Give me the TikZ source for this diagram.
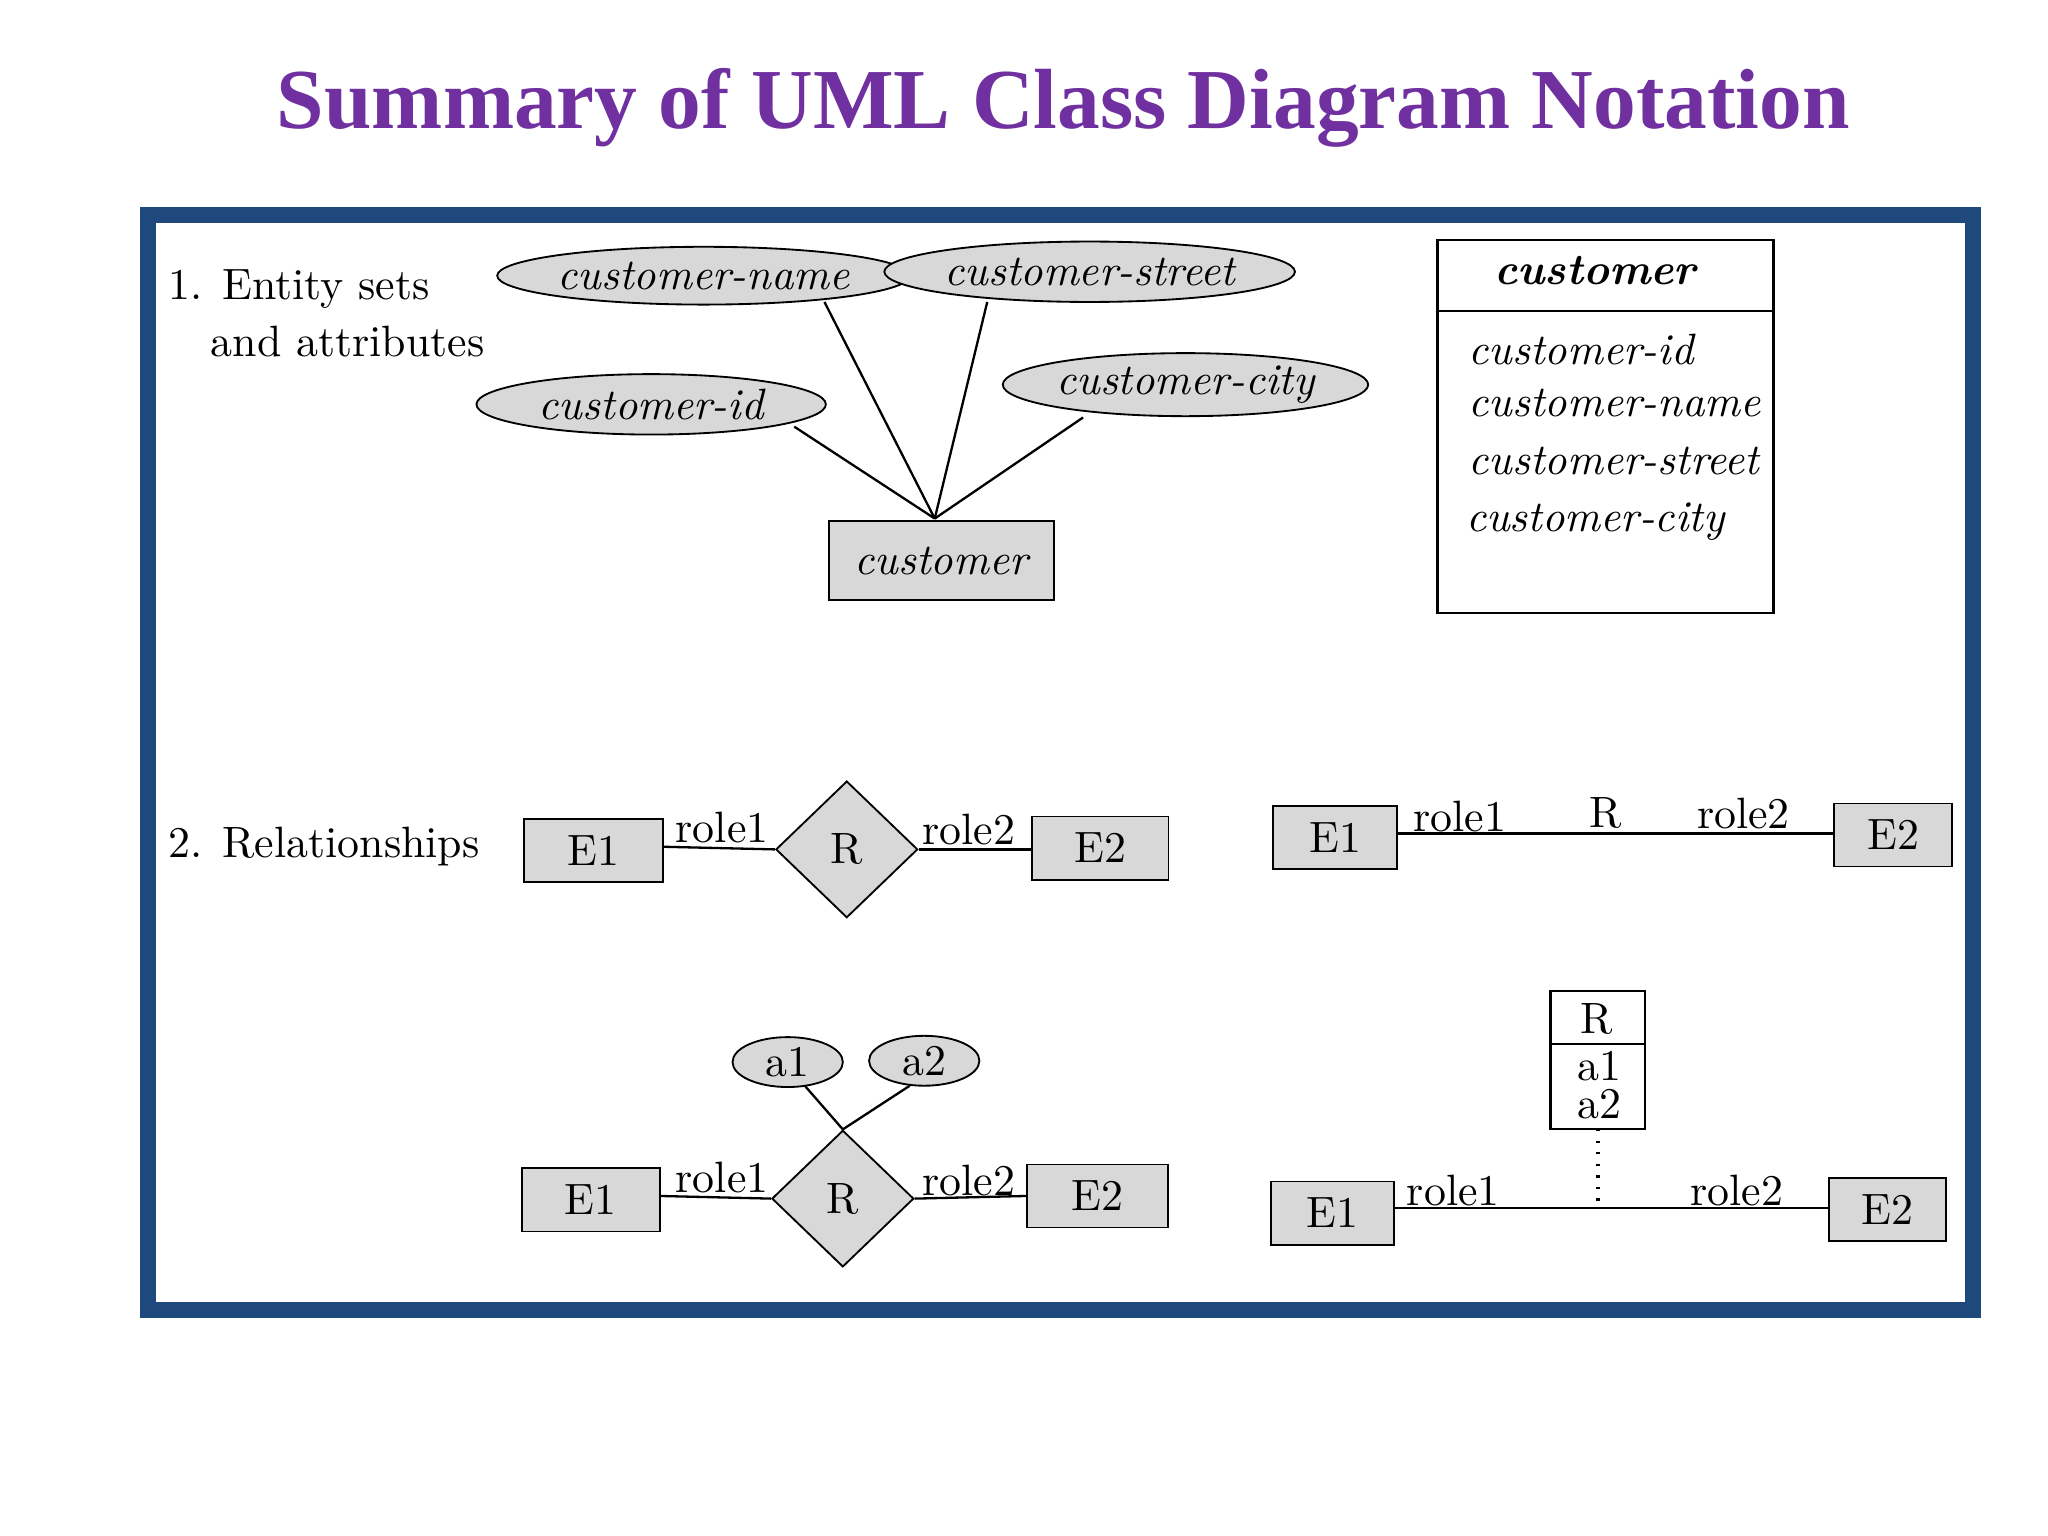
\documentclass[tikz,border=0pt]{standalone}
\usepackage{fontspec}
\newfontfamily\titlefont{Liberation Serif}
\usetikzlibrary{shapes.geometric}
\definecolor{ttl}{RGB}{112,48,160}
\definecolor{frm}{RGB}{31,73,125}
\definecolor{gr}{RGB}{216,216,216}
\begin{document}
\begin{tikzpicture}[x=0.01cm,y=-0.01cm,
  txt/.style={inner sep=0pt,font=\fontsize{9.5}{11}\selectfont},
  itx/.style={inner sep=0pt,font=\fontsize{9.5}{11}\selectfont\itshape},
  att/.style={ellipse,draw,fill=gr,inner sep=0pt,font=\fontsize{9.5}{11}\selectfont\itshape},
  ent/.style={draw,fill=gr,minimum width=#1,minimum height=0.48cm,inner sep=0pt,font=\fontsize{9.5}{11}\selectfont},
  rel/.style={diamond,draw,fill=gr,minimum width=1.08cm,minimum height=1.04cm,inner sep=0pt,font=\fontsize{9.5}{11}\selectfont},
  ln/.style={draw,line width=0.5pt}]
\useasboundingbox (0,0) rectangle (1560,1170);
\node[font=\titlefont\bfseries\fontsize{18.5}{22}\selectfont,text=ttl] (title) at (810,82) {Summary of UML Class Diagram Notation};
\draw[frm,line width=0.12cm] (113,164) rectangle (1503,998);
\node[txt,anchor=west] (s1a) at (128,220) {1. Entity sets};
\node[txt,anchor=west] (s1b) at (160,260) {and attributes};
% ellipses
\node[att,minimum width=2.66cm,minimum height=0.44cm] (cn) at (536,210) {customer-name};
\node[att,minimum width=2.66cm,minimum height=0.46cm] (cs) at (830,207) {customer-street};
\node[att,minimum width=2.66cm,minimum height=0.46cm] (ci) at (496,308) {customer-id};
\node[att,minimum width=2.66cm,minimum height=0.48cm] (cc) at (903,293) {customer-city};
\node[ent=1.71cm,minimum height=0.6cm,font=\fontsize{9.5}{11}\selectfont\itshape] (cu) at (717,427) {customer};
\coordinate (top) at (712,395);
\draw[ln] (628,230) -- (top);
\draw[ln] (752,230) -- (top);
\draw[ln] (605,325) -- (top);
\draw[ln] (825,318) -- (top);
% UML box
\draw[ln] (1095,183) rectangle (1351,467);
\draw[ln] (1095,237) -- (1351,237);
\node[txt,font=\fontsize{9.5}{11}\selectfont\bfseries\itshape] (ucn) at (1215,206) {customer};
\node[itx,anchor=west] (u1) at (1118,266) {customer-id};
\node[itx,anchor=west] (u2) at (1118,307) {customer-name};
\node[itx,anchor=west] (u3) at (1118,351) {customer-street};
\node[itx,anchor=west] (u4) at (1116,397) {customer-city};
% relationships
\node[txt,anchor=west] (s2) at (128,645) {2. Relationships};
\node[ent=1.06cm] (a1) at (452,648) {E1};
\node[rel] (ar) at (645,647) {R};
\node[ent=1.04cm] (a2) at (838,646) {E2};
\draw[ln] (a1.east |- 0,645) -- (ar.west);
\draw[ln] (ar.east) -- (a2.west |- 0,647);
\node[txt] (ar1) at (550,630) {role1};
\node[txt] (ar2) at (738,632) {role2};
\node[ent=0.94cm] (b1) at (1017,638) {E1};
\node[ent=0.9cm] (b2) at (1442,636) {E2};
\draw[ln] (b1.east |- 0,635) -- (b2.west |- 0,635);
\node[txt] (br1) at (1112,622) {role1};
\node[txt] (br) at (1223,619) {R};
\node[txt] (br2) at (1328,620) {role2};
% bottom left
\node[ent=1.05cm] (c1) at (450,914) {E1};
\node[rel] (cr) at (642,913) {R};
\node[ent=1.07cm] (c2) at (836,911) {E2};
\draw[ln] (c1.east |- 0,911) -- (cr.west);
\draw[ln] (cr.east) -- (c2.west |- 0,911);
\node[txt] (cr1) at (550,897) {role1};
\node[txt] (cr2) at (738,899) {role2};
\node[att,font=\fontsize{9.5}{11}\selectfont,minimum width=0.84cm,minimum height=0.38cm] (ca1) at (600,809) {a1};
\node[att,font=\fontsize{9.5}{11}\selectfont,minimum width=0.84cm,minimum height=0.38cm] (ca2) at (704,808) {a2};
\draw[ln] (613,827) -- (cr.north);
\draw[ln] (693,827) -- (cr.north);
% bottom right
\draw[ln] (1181,755) rectangle (1253,860);
\draw[ln] (1181,795) -- (1253,795);
\node[txt] (dr) at (1216,776) {R};
\node[txt] (da1) at (1218,812) {a1};
\node[txt] (da2) at (1218,841) {a2};
\node[ent=0.94cm] (d1) at (1015,924) {E1};
\node[ent=0.89cm] (d2) at (1438,921) {E2};
\draw[ln] (d1.east |- 0,920) -- (d2.west |- 0,920);
\coordinate (dtop) at (1217,860);
\coordinate (dbot) at (1217,918);
\draw[ln,dotted,line width=0.8pt] (dtop) -- (dbot);
\node[txt] (dr1) at (1107,907) {role1};
\node[txt] (dr2) at (1323,907) {role2};
\end{tikzpicture}
\end{document}
